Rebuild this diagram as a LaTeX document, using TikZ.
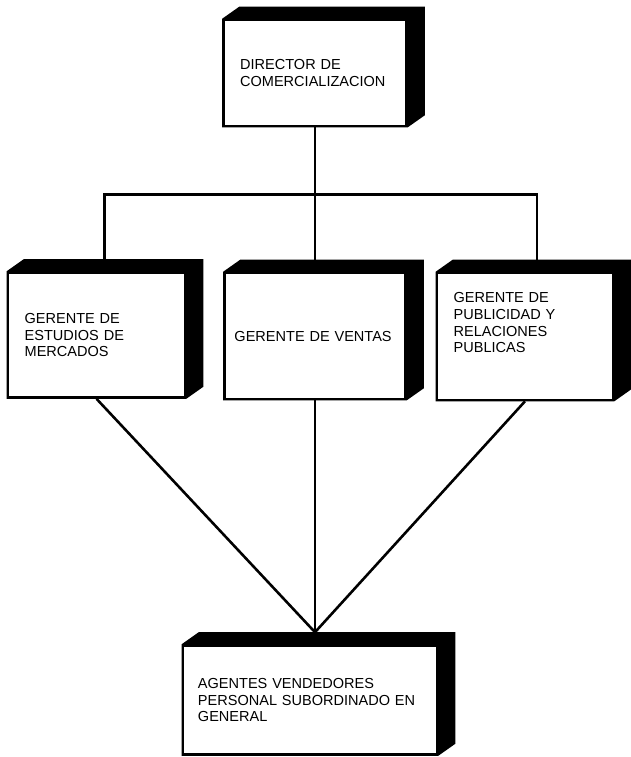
\documentclass[tikz,border=0pt]{standalone}
\usepackage{fontspec}
\setmainfont{Liberation Sans}
\usetikzlibrary{calc, backgrounds}

% black 3-D block behind a box (shows as top strip and right strip)
\newcommand{\extrude}[1]{%
  \fill[black] (#1.north west) -- ++(17,-12) -- ($(#1.north east)+(17,-12)$)
    -- ($(#1.south east)+(17,-12)$) -- (#1.south east) -- (#1.south west) -- cycle;}

\begin{document}
\begin{tikzpicture}[
  x=0.03cm, y=-0.03cm,
  % Front face of a box
  orgbox/.style={rectangle, draw=black, line width=2.2pt, fill=white, align=left,
    inner xsep=0.5cm, inner ysep=0pt, font=\fontsize{12.4}{14.4}\selectfont},
  % Connecting line
  link/.style={line width=2.2pt, draw=black}
]
\useasboundingbox (0,0) rectangle (630,757);

%% Boxes
\node[orgbox, text width=4.49cm, minimum height=3.18cm] (dir) at (315,73)
  {DIRECTOR DE\\COMERCIALIZACION};
\node[orgbox, text width=4.31cm, minimum height=3.75cm] (est) at (96.5,335)
  {GERENTE DE\\ESTUDIOS DE\\MERCADOS};
\node[orgbox, text width=4.83cm, inner xsep=0.3cm, minimum height=3.78cm] (ven) at (315,336)
  {GERENTE DE VENTAS};
\node[orgbox, text width=4.28cm, minimum height=3.81cm, text depth=67pt] (pub) at (525,336.5)
  {GERENTE DE\\PUBLICIDAD Y\\RELACIONES\\PUBLICAS};
\node[orgbox, text width=6.72cm, inner xsep=0.45cm, minimum height=3.27cm] (age) at (310,700)
  {AGENTES VENDEDORES\\PERSONAL SUBORDINADO EN\\GENERAL};

%% Lines
\coordinate (bus) at ($(dir.south)+(0,67)$);
\coordinate (meet) at ($(age.north)+(5,-12)$);

\draw[link] (dir.south) -- (bus);
\draw[link] ($(est.north)+(8,0)$) |- (bus) -| ($(pub.north)+(12,0)$);
\draw[link] (bus) -- (ven.north);

% all three managers down to the agents
\draw[link] (est.south) -- (meet);
\draw[link] (ven.south) -- (meet);
\draw[link] (pub.south) -- (meet);

%% 3-D sides
\begin{scope}[on background layer]
  \foreach \b in {dir,est,ven,pub,age}
    \extrude{\b};
\end{scope}

\end{tikzpicture}
\end{document}
